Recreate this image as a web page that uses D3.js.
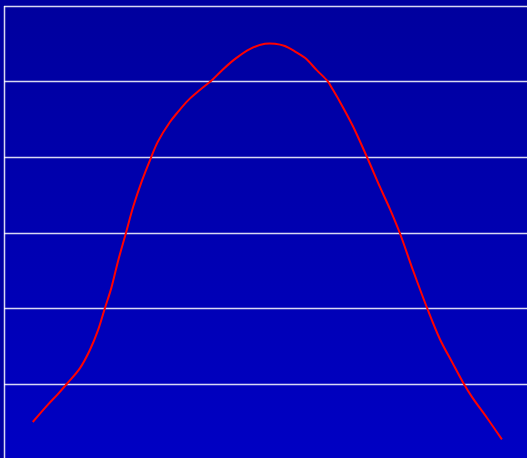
<!DOCTYPE html>
<html><head><meta charset="utf-8">
<script src="https://cdn.jsdelivr.net/npm/d3@7"></script>
<style>html,body{margin:0;padding:0;background:#0000a0;overflow:hidden}</style>
</head><body>
<script>
const xValues = [5.5,8.4,10.3,12.2,14.5,16.4,18.0,19.3,20.5,21.8,23.3,24.7,26.4,28.1,29.4,31.7,33.3,35.2,37.5,39.8,41.7,44.2,47.0,49.9,51.8,53.7,55.6,57.6,59.8,61.8,62.9,64.8,66.7,69.4,71.9,73.8,75.7,78.2,80.9,83.4,85.7,87.8,89.5,92.4,95.2];
const yValues = [0.49,0.72,0.86,1.01,1.20,1.44,1.71,2.00,2.26,2.62,2.99,3.34,3.69,3.99,4.20,4.46,4.60,4.75,4.89,5.02,5.15,5.30,5.43,5.50,5.50,5.47,5.40,5.31,5.15,5.01,4.89,4.66,4.41,4.00,3.60,3.31,2.99,2.50,2.00,1.58,1.28,1.01,0.82,0.54,0.26];
const yTicks = [0,1,2,3,4,5,6];

const W = 527, H = 458;
const svg = d3.select("body").append("svg").attr("width", W).attr("height", H);
const x = d3.scaleLinear().domain([0,100]).range([4, 527]);
const y = d3.scaleLinear().domain([0,6]).range([459, 6]);

const defs = svg.append("defs");
const g = defs.append("linearGradient").attr("id","bg").attr("x1",0).attr("y1",0).attr("x2",0).attr("y2",1);
g.append("stop").attr("offset","0%").attr("stop-color","#00009e");
g.append("stop").attr("offset","100%").attr("stop-color","#0000c4");

svg.append("rect").attr("width",W).attr("height",H).attr("fill","#0000a0");
svg.append("rect").attr("x",x(0)).attr("y",y(6)).attr("width",W).attr("height",H).attr("fill","url(#bg)");

svg.append("g").selectAll("line").data(yTicks.filter(d=>d>0)).join("line")
  .attr("x1",x(0)).attr("x2",W)
  .attr("y1",d=>Math.round(y(d))+0.5).attr("y2",d=>Math.round(y(d))+0.5)
  .attr("stroke","#ffffff").attr("stroke-opacity",0.85).attr("stroke-width",1.5);

svg.append("line").attr("x1",x(0)+0.5).attr("x2",x(0)+0.5).attr("y1",y(6)).attr("y2",H)
  .attr("stroke","#ffffff").attr("stroke-opacity",0.85).attr("stroke-width",1.5);

const data = xValues.map((v,i)=>[v,yValues[i]]);
svg.append("path").datum(data)
  .attr("d", d3.line().x(d=>x(d[0])).y(d=>y(d[1])).curve(d3.curveCatmullRom.alpha(0.5)))
  .attr("fill","none").attr("stroke","#ff0000").attr("stroke-width",2);
</script>
</body></html>
